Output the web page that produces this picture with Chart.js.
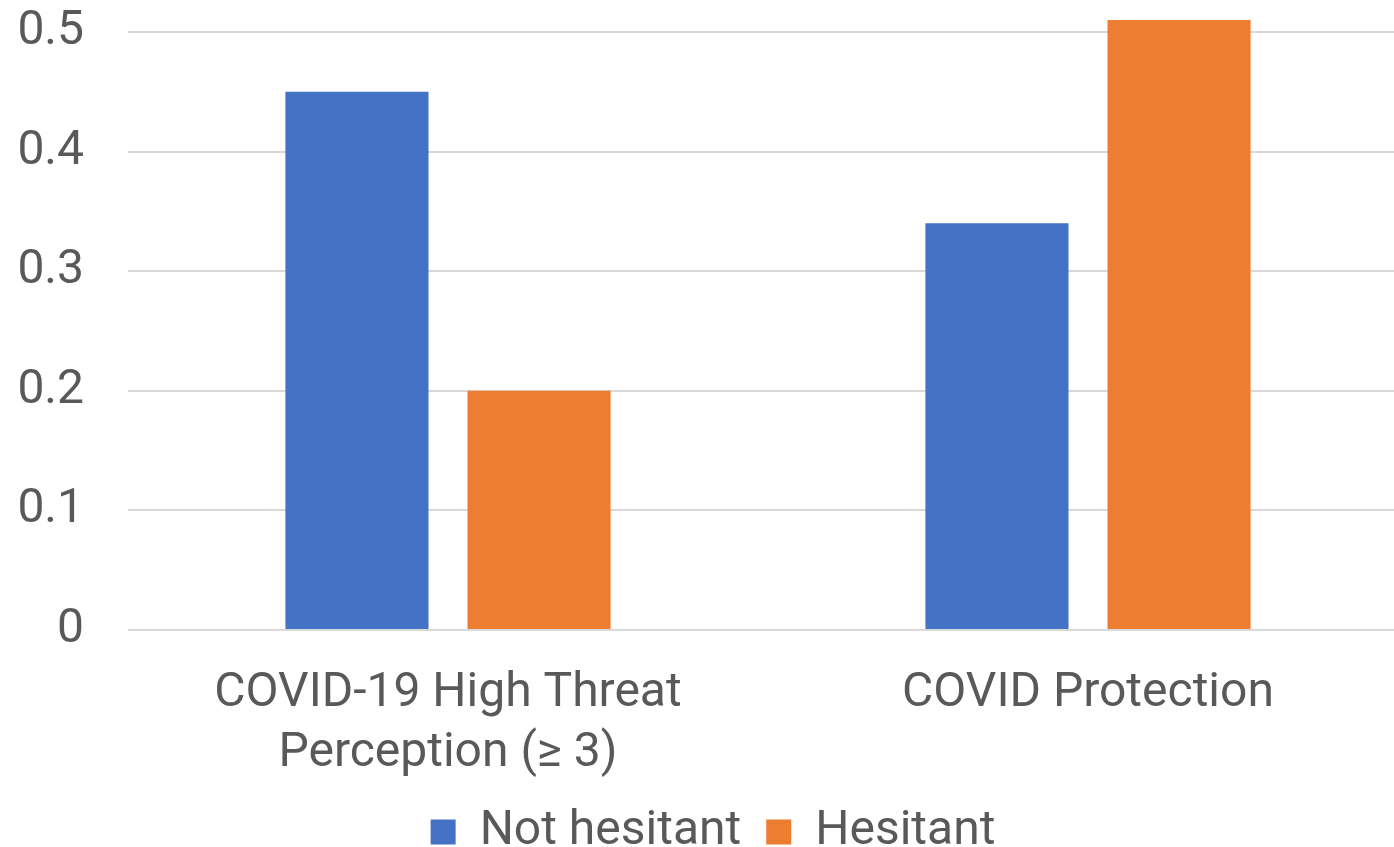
<!DOCTYPE html>
<html>
<head>
<meta charset="utf-8">
<script src="https://cdn.jsdelivr.net/npm/chart.js@4"></script>
<style>
  html, body { margin: 0; padding: 0; background: #fff; overflow: hidden; }
  #chart { display: block; }
</style>
</head>
<body>
<canvas id="chart" width="1408" height="847"></canvas>
<script>
// Share of respondents per measure, split by vaccine hesitancy
const categories = [['COVID-19 High Threat', 'Perception (\u2265 3)'], 'COVID Protection'];
const notHesitant = [0.45, 0.34];
const hesitant = [0.20, 0.51];
const yTicks = [0, 0.1, 0.2, 0.3, 0.4, 0.5];

const textColor = '#595959';
const font = { family: 'Roboto', size: 48 };

new Chart(document.getElementById('chart').getContext('2d'), {
    type: 'bar',
    data: {
        labels: categories,
        datasets: [
            { label: 'Not hesitant', data: notHesitant, backgroundColor: '#4472C4' },
            { label: 'Hesitant', data: hesitant, backgroundColor: '#ED7D31' }
        ]
    },
    options: {
        responsive: false,
        devicePixelRatio: 1,
        animation: false,
        categoryPercentage: 0.569,
        barPercentage: 0.786,
        // negative bottom padding pushes the legend down to the canvas edge
        layout: { padding: { top: 8, left: 18, right: 0, bottom: -19 } },
        plugins: {
            tooltip: { enabled: false },
            legend: {
                position: 'bottom',
                labels: {
                    color: textColor,
                    font: font,
                    boxWidth: 25,
                    boxHeight: 25,
                    padding: 25
                }
            }
        },
        scales: {
            x: {
                afterFit: (axis) => { axis.height = 153; },
                grid: { display: false },
                border: { display: false },
                ticks: {
                    color: textColor,
                    font: { family: 'Roboto', size: 48, lineHeight: 1.25 },
                    padding: 26,
                    maxRotation: 0
                }
            },
            y: {
                min: 0,
                max: 0.52,
                afterBuildTicks: (axis) => {
                    axis.ticks = yTicks.map(v => ({ value: v }));
                },
                afterFit: (axis) => {
                    axis.width = 110;
                    axis.paddingTop = 0;
                    axis.paddingBottom = 0;
                },
                grid: { color: '#D9D9D9', lineWidth: 2, drawTicks: false },
                border: { display: false },
                ticks: {
                    color: textColor,
                    font: font,
                    padding: 44,
                    callback: (v) => String(Math.round(v * 10) / 10)
                }
            }
        }
    }
});
</script>
</body>
</html>
